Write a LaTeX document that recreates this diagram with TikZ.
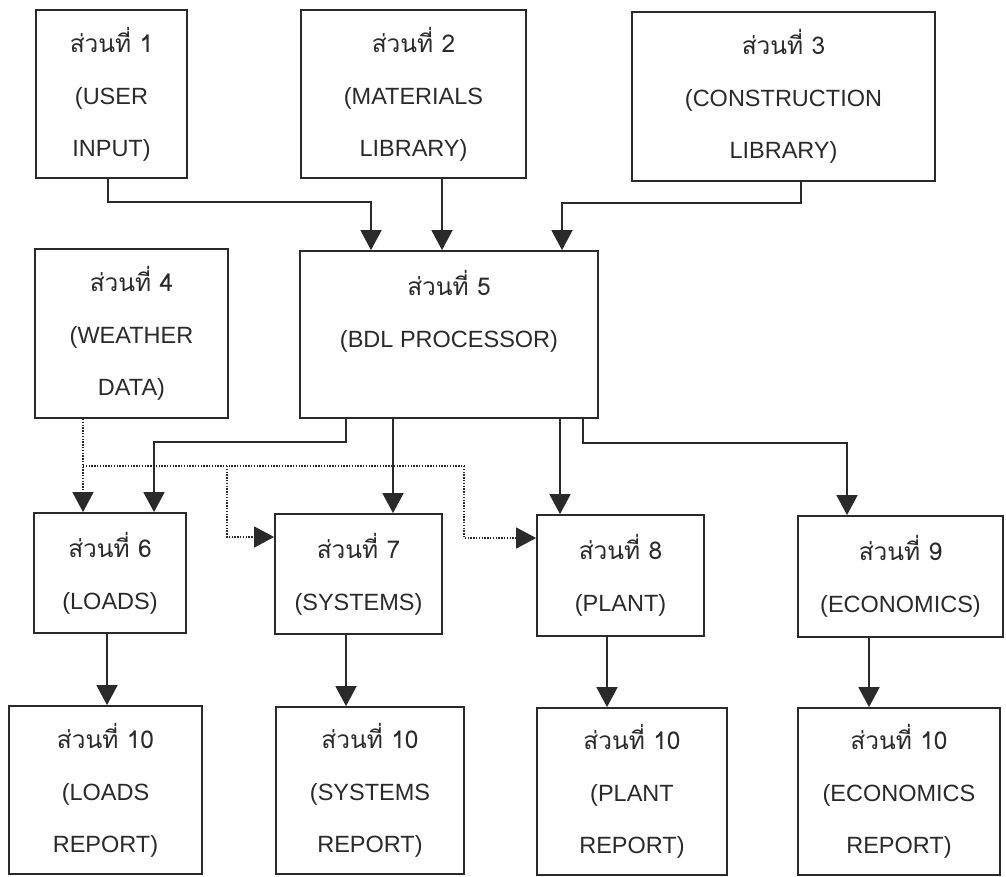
\documentclass[tikz,border=0pt]{standalone}
\usepackage{fontspec}
\setmainfont{Liberation Sans}
\newfontfamily\thaifont[Script=Thai]{Loma}
\usetikzlibrary{arrows.meta}
\definecolor{ink}{HTML}{2A2A2A}
\tikzset{
  x=1pt, y=-1pt,
  box/.style={draw=ink, line width=1.8pt, inner sep=0pt, align=center,
    text=ink, font=\fontsize{23.5}{52}\selectfont},
  arr/.style={draw=ink, line width=1.8pt, -{Triangle[width=21pt,length=20pt]}},
  dotarr/.style={draw=ink, line width=1.3pt, dash pattern=on 1.4pt off 1.4pt,
    -{Triangle[width=21pt,length=20pt]}},
  dotline/.style={draw=ink, line width=1.3pt, dash pattern=on 1.4pt off 1.4pt}
}
\newcommand{\thtxt}[1]{{\thaifont\fontsize{24.5}{52}\selectfont #1}}
\begin{document}
\begin{tikzpicture}
\useasboundingbox (0,0) rectangle (1006,876);
% boxes
\node[box, minimum width=151, minimum height=168] (b1) at (111.5,94) {\thtxt{ส่วนที่ 1}\\(USER\\INPUT)};
\node[box, minimum width=225, minimum height=168] (b2) at (413.5,94) {\thtxt{ส่วนที่ 2}\\(MATERIALS\\LIBRARY)};
\node[box, minimum width=303, minimum height=169] (b3) at (783.5,96.5) {\thtxt{ส่วนที่ 3}\\(CONSTRUCTION\\LIBRARY)};
\node[box, minimum width=193, minimum height=169] (b4) at (131.5,333.5) {\thtxt{ส่วนที่ 4}\\(WEATHER\\DATA)};
\node[box, minimum width=298, minimum height=167] (b5) at (449,334.5) {\thtxt{ส่วนที่ 5}\\(BDL PROCESSOR)\\\phantom{X}};
\node[box, minimum width=152, minimum height=120] (b6) at (110,573) {\thtxt{ส่วนที่ 6}\\(LOADS)};
\node[box, minimum width=167, minimum height=120] (b7) at (358.5,574) {\thtxt{ส่วนที่ 7}\\(SYSTEMS)};
\node[box, minimum width=167, minimum height=121] (b8) at (620.5,575.5) {\thtxt{ส่วนที่ 8}\\(PLANT)};
\node[box, minimum width=205, minimum height=121] (b9) at (900.5,576.5) {\thtxt{ส่วนที่ 9}\\(ECONOMICS)};
\node[box, minimum width=193, minimum height=168] (r6) at (105.5,790) {\thtxt{ส่วนที่ 10}\\(LOADS\\REPORT)};
\node[box, minimum width=188, minimum height=167] (r7) at (370,790.5) {\thtxt{ส่วนที่ 10}\\(SYSTEMS\\REPORT)};
\node[box, minimum width=190, minimum height=167] (r8) at (632,791.5) {\thtxt{ส่วนที่ 10}\\(PLANT\\REPORT)};
\node[box, minimum width=202, minimum height=167] (r9) at (899,791.5) {\thtxt{ส่วนที่ 10}\\(ECONOMICS\\REPORT)};
% bend coordinates
\coordinate (c1) at (371,202);
\coordinate (c2) at (442,0);
\coordinate (c3) at (562,203);
\coordinate (c5a) at (346,0);
\coordinate (c6) at (154,442);
\coordinate (c7) at (393,0);
\coordinate (c8) at (560,0);
\coordinate (c9a) at (583,0);
\coordinate (c9) at (847,443);
\coordinate (d0) at (83,0);
\coordinate (d1) at (83,466);
\coordinate (d2) at (227,466);
\coordinate (d3) at (464,466);
\coordinate (d7) at (227,537);
\coordinate (d8) at (464,538);
% connectors into BDL processor
\draw[arr] ([xshift=-3.5]b1.south) |- (c1) -- (c1 |- b5.north);
\draw[arr] (c2 |- b2.south) -- (c2 |- b5.north);
\draw[arr] ([xshift=17.5]b3.south) |- (c3) -- (c3 |- b5.north);
% from BDL processor
\draw[arr] (c5a |- b5.south) |- (c6) -- (c6 |- b6.north);
\draw[arr] (c7 |- b5.south) -- (c7 |- b7.north);
\draw[arr] (c8 |- b5.south) -- (c8 |- b8.north);
\draw[arr] (c9a |- b5.south) |- (c9) -- (c9 |- b9.north);
% weather data (dotted)
\draw[dotarr] (d0 |- b4.south) -- (d0 |- b6.north);
\draw[dotline] (d1) -- (d3);
\draw[dotarr] (d2) -- (d7) -- (d7 -| b7.west);
\draw[dotarr] (d3) -- (d8) -- (d8 -| b8.west);
% to reports
\draw[arr] ([xshift=-3]b6.south) -- ([xshift=-3]b6.south |- r6.north);
\draw[arr] ([xshift=-12.5]b7.south) -- ([xshift=-12.5]b7.south |- r7.north);
\draw[arr] ([xshift=-13.5]b8.south) -- ([xshift=-13.5]b8.south |- r8.north);
\draw[arr] ([xshift=-31.5]b9.south) -- ([xshift=-31.5]b9.south |- r9.north);
\end{tikzpicture}
\end{document}
